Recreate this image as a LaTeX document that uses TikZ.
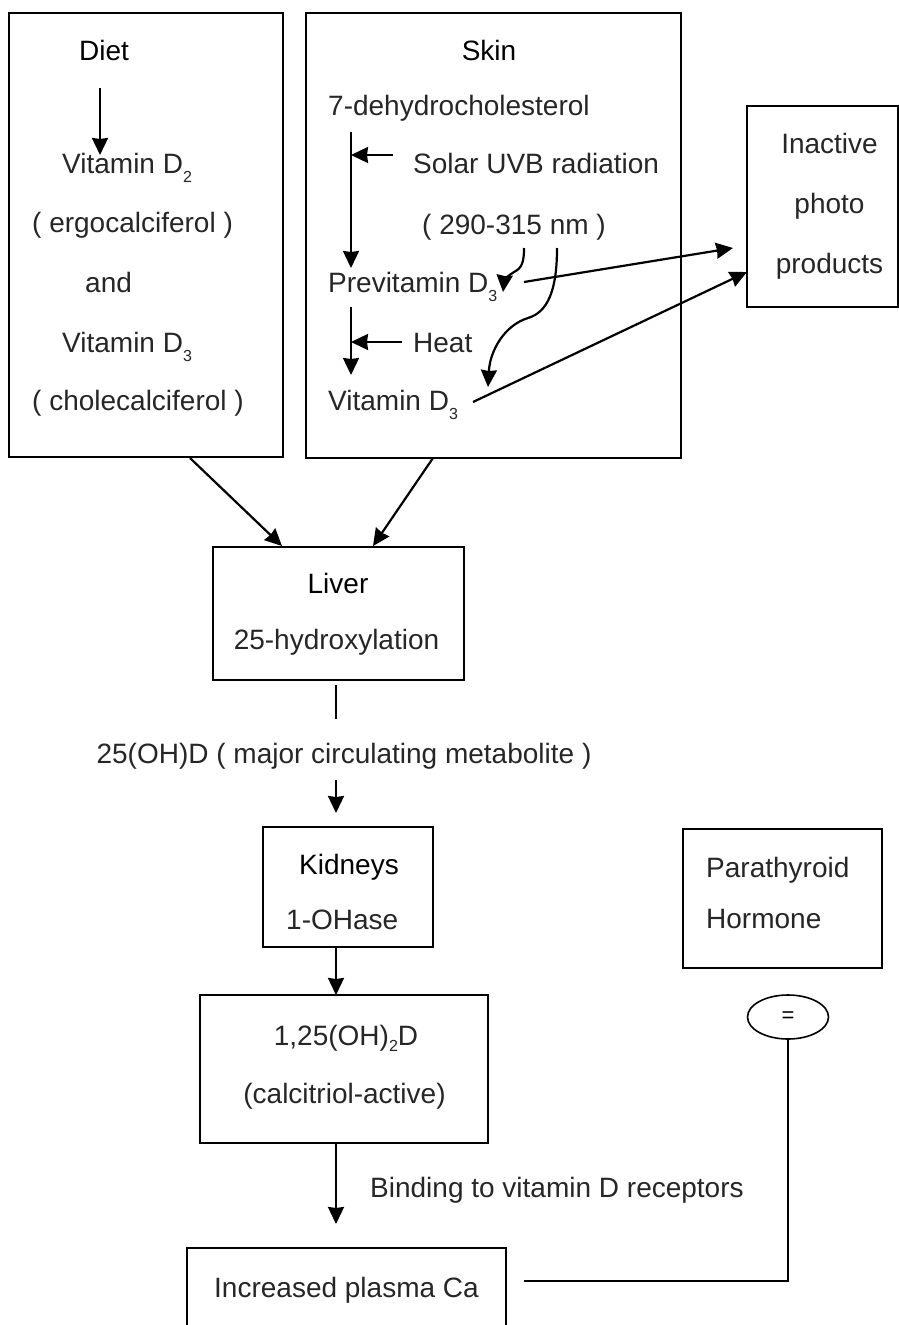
\documentclass[tikz,border=0pt]{standalone}
\usepackage{fontspec}
\setmainfont{Liberation Sans}
\usetikzlibrary{
  arrows.meta,
  shapes.geometric
}
\tikzset{
  >={Stealth[length=17pt, width=16pt, inset=1pt]},
  box/.style = {draw, line width=1.6pt, inner sep=0pt},
  txt/.style = {anchor=base west, inner sep=0pt, text=black!85},
  mid/.style = {anchor=base, inner sep=0pt, text=black!85},
  title/.style = {anchor=base, inner sep=0pt, text=black},
  flow/.style = {->, line width=2.2pt},
  link/.style = {line width=1.6pt},
}
\newcommand{\dsub}[1]{\raisebox{-9pt}{\fontsize{16}{16}\selectfont #1}}

\begin{document}
\begin{tikzpicture}[x=1pt, y=-1pt, font=\fontsize{28}{32}\selectfont]
  \path[use as bounding box, clip] (0,0) rectangle (899,1325);

  % boxes
  \node[box, minimum width=274pt, minimum height=444pt] (diet) at (146,235) {};
  \node[box, minimum width=375pt, minimum height=445pt] (skin) at (493.5,235.5) {};
  \node[box, minimum width=151pt, minimum height=201pt] (inactive) at (822.5,206.5) {};
  \node[box, minimum width=251pt, minimum height=133pt] (liver) at (338.5,613.5) {};
  \node[box, minimum width=170pt, minimum height=120pt] (kidneys) at (348,887) {};
  \node[box, minimum width=288pt, minimum height=148pt] (calcitriol) at (344,1069) {};
  \node[box, minimum width=199pt, minimum height=139pt] (pth) at (782.5,898.5) {};
  \node[box, minimum width=319pt, minimum height=97pt] (plasma) at (346.5,1296.5) {};
  \node[box, ellipse, minimum width=81pt, minimum height=44pt] (eq) at (788,1017)
    {\fontsize{22}{22}\selectfont =};

  % diet
  \node[txt, text=black] (dietlbl) at (79,60) {Diet};
  \node[txt] (d2) at (62,173) {Vitamin D\dsub{2}};
  \node[txt] (ergo) at (32,232) {( ergocalciferol )};
  \node[txt] (and) at (85,292) {and};
  \node[txt] (d3diet) at (62,352) {Vitamin D\dsub{3}};
  \node[txt] (chole) at (32,410) {( cholecalciferol )};

  % skin
  \node[title] (skinlbl) at (489,60) {Skin};
  \node[txt] (dehydro) at (328,115) {7-dehydrocholesterol};
  \node[txt] (uvb) at (413,173) {Solar UVB radiation};
  \node[txt] (nm) at (422,234) {( 290-315 nm )};
  \node[txt] (pre) at (328,292) {Previtamin D\dsub{3}};
  \node[txt] (heat) at (413,352) {Heat};
  \node[txt] (d3skin) at (328,410) {Vitamin D\dsub{3}};

  % inactive photo products
  \node[mid] (inact1) at (829.5,153) {Inactive};
  \node[mid] (inact2) at (829.5,213) {photo};
  \node[mid] (inact3) at (829.5,273) {products};

  % liver and kidneys
  \node[title] (liverlbl) at (338,593) {Liver};
  \node[mid] (hydrox) at (336.5,649) {25-hydroxylation};
  \node[mid] (ohd) at (344,763) {25(OH)D ( major circulating metabolite )};
  \node[title] (kidlbl) at (349,874) {Kidneys};
  \node[txt] (ohase) at (286,929) {1-OHase};
  \node[mid] (oh2d) at (346,1045) {1,25(OH)\raisebox{-6pt}{\fontsize{16}{16}\selectfont 2}D};
  \node[mid] (active) at (344.5,1103) {(calcitriol-active)};
  \node[txt] (binding) at (370,1197) {Binding to vitamin D receptors};
  \node[mid] (ca) at (346.5,1297) {Increased plasma Ca};
  \node[txt] (pth1) at (706,877) {Parathyroid};
  \node[txt] (pth2) at (706,928) {Hormone};

  % connector ends
  \coordinate (dietA) at (100,88);
  \coordinate (dietB) at (100,155);
  \coordinate (skinA) at (351,132);
  \coordinate (skinB) at (351,268);
  \coordinate (uvbA) at (393,155);
  \coordinate (uvbB) at (351,155);
  \coordinate (skinC) at (351,307);
  \coordinate (skinD) at (351,375);
  \coordinate (heatA) at (402,342);
  \coordinate (heatB) at (351,342);
  \coordinate (nmA) at (524,248);
  \coordinate (nmB) at (503,292);
  \coordinate (nmC) at (557,248);
  \coordinate (nmD) at (488,387);
  \coordinate (preout) at (524,282);
  \coordinate (inactA) at (733,248);
  \coordinate (d3out) at (473,402);
  \coordinate (inactB) at (747,272);
  \coordinate (dietout) at (190,458);
  \coordinate (liverL) at (282,546);
  \coordinate (skinout) at (433,458);
  \coordinate (liverR) at (373,546);
  \coordinate (liverout) at (336,685);
  \coordinate (ohdA) at (336,719);
  \coordinate (ohdB) at (336,780);
  \coordinate (kidin) at (336,813);
  \coordinate (kidout) at (336,947);
  \coordinate (calin) at (336,995);
  \coordinate (calout) at (336,1143);
  \coordinate (cain) at (336,1224);
  \coordinate (caout) at (524,1281);

  % connectors
  \draw[flow] (dietA) -- (dietB);
  \draw[flow] (skinA) -- (skinB);
  \draw[flow] (uvbA) -- (uvbB);
  \draw[flow] (skinC) -- (skinD);
  \draw[flow] (heatA) -- (heatB);
  \draw[flow] (nmA) .. controls (524,262) and (522,268) .. (514,272)
    .. controls (508,275) and (504,282) .. (nmB);
  \draw[flow] (nmC) .. controls (557,290) and (548,312) .. (528,318)
    .. controls (505,325) and (490,350) .. (nmD);
  \draw[flow] (preout) -- (inactA);
  \draw[flow] (d3out) -- (inactB);
  \draw[flow] (dietout) -- (liverL);
  \draw[flow] (skinout) -- (liverR);
  \draw[line width=1.3pt] (liverout) -- (ohdA);
  \draw[flow] (ohdB) -- (kidin);
  \draw[flow] (kidout) -- (calin);
  \draw[flow] (calout) -- (cain);
  \draw[link] (caout) -| (eq.south);
\end{tikzpicture}
\end{document}
